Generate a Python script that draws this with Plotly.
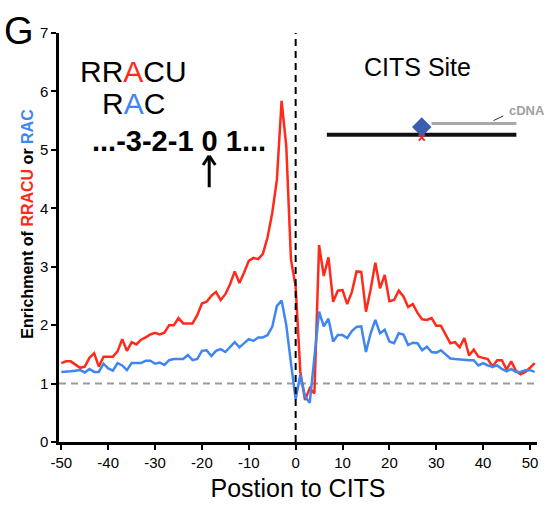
import plotly.graph_objects as go

positions = list(range(-50, 52))

rracu = [1.35, 1.38, 1.38, 1.33, 1.27, 1.29, 1.44, 1.52, 1.29, 1.46,
         1.46, 1.46, 1.55, 1.76, 1.56, 1.71, 1.67, 1.75, 1.79, 1.84,
         1.87, 1.84, 1.87, 2.00, 2.00, 2.12, 2.03, 2.03, 2.03, 2.17,
         2.37, 2.40, 2.50, 2.57, 2.43, 2.53, 2.70, 2.92, 2.72, 2.90,
         3.10, 3.15, 3.13, 3.22, 3.50, 3.92, 4.49, 5.84, 5.06, 3.12,
         2.66, 1.20, 0.72, 0.92, 0.83, 3.37, 2.84, 3.16, 2.40, 2.59,
         2.60, 2.36, 2.57, 2.92, 2.91, 2.23, 2.61, 3.07, 2.63, 2.86,
         2.41, 2.43, 2.59, 2.49, 2.31, 2.36, 2.21, 2.10, 2.09, 2.12,
         1.99, 1.99, 1.83, 1.69, 1.71, 1.62, 1.78, 1.48, 1.58, 1.46,
         1.44, 1.42, 1.29, 1.40, 1.40, 1.24, 1.38, 1.22, 1.16, 1.20,
         1.27, 1.35]

rac = [1.20, 1.20, 1.21, 1.22, 1.23, 1.19, 1.25, 1.20, 1.20, 1.34,
       1.26, 1.22, 1.35, 1.31, 1.23, 1.35, 1.35, 1.35, 1.39, 1.39,
       1.34, 1.36, 1.32, 1.40, 1.42, 1.42, 1.42, 1.49, 1.40, 1.42,
       1.56, 1.57, 1.47, 1.56, 1.59, 1.54, 1.62, 1.71, 1.62, 1.69,
       1.76, 1.73, 1.79, 1.79, 1.83, 1.97, 2.33, 2.42, 2.00, 1.35,
       0.73, 1.15, 0.78, 0.67, 1.40, 2.23, 1.98, 2.11, 1.72, 1.83,
       1.83, 1.78, 1.90, 1.97, 1.98, 1.54, 1.86, 2.09, 1.86, 1.92,
       1.72, 1.69, 1.86, 1.84, 1.66, 1.70, 1.69, 1.57, 1.63, 1.54,
       1.53, 1.57, 1.50, 1.43, 1.42, 1.41, 1.40, 1.40, 1.40, 1.31,
       1.35, 1.31, 1.29, 1.31, 1.25, 1.21, 1.25, 1.20, 1.20, 1.23,
       1.23, 1.20]

x_ticks = [-50, -40, -30, -20, -10, 0, 10, 20, 30, 40, 50]
y_ticks = [0, 1, 2, 3, 4, 5, 6, 7]

RED = "#FF2A1A"
BLUE = "#3F86F2"
FONT = "Arial, Liberation Sans, sans-serif"

fig = go.Figure()
fig.add_trace(go.Scatter(x=positions, y=rracu, mode="lines",
                         line=dict(color=RED, width=2.5), showlegend=False))
fig.add_trace(go.Scatter(x=positions, y=rac, mode="lines",
                         line=dict(color=BLUE, width=2.5), showlegend=False))

# CITS site schematic markers
fig.add_trace(go.Scatter(x=[26.9], y=[5.39], mode="markers",
                         marker=dict(symbol="diamond", size=15, color="#3A5DB0"),
                         showlegend=False))
fig.add_trace(go.Scatter(x=[26.9], y=[5.21], mode="markers",
                         marker=dict(symbol="x-thin", size=6, line=dict(color="#E0302A", width=2)),
                         showlegend=False))

AX, TIP, TAIL = -18.45, 4.90, 4.36
shapes = [
    dict(type="line", xref="x", yref="y", x0=0, x1=0, y0=0, y1=7,
         line=dict(color="black", width=2, dash="7px,5px"), layer="above"),
    dict(type="line", xref="x", yref="y", x0=-50.5, x1=51.5, y0=1, y1=1,
         line=dict(color="#9A9A9A", width=2, dash="7px,5px"), layer="below"),
    dict(type="line", xref="x", yref="y", x0=6.66, x1=47.1, y0=5.26, y1=5.26,
         line=dict(color="#111111", width=4), layer="below"),
    dict(type="line", xref="x", yref="y", x0=29.0, x1=47.1, y0=5.45, y1=5.45,
         line=dict(color="#A8A8A8", width=3), layer="below"),
    dict(type="line", xref="x", yref="y", x0=42.2, x1=44.3, y0=5.50, y1=5.58,
         line=dict(color="#333333", width=1)),
    # upward arrow under position 0
    dict(type="line", xref="x", yref="y", x0=AX, x1=AX, y0=TAIL, y1=TIP - 0.02,
         line=dict(color="black", width=3)),
    dict(type="line", xref="x", yref="y", x0=AX - 1.3, x1=AX, y0=TIP - 0.16, y1=TIP,
         line=dict(color="black", width=3)),
    dict(type="line", xref="x", yref="y", x0=AX + 1.3, x1=AX, y0=TIP - 0.16, y1=TIP,
         line=dict(color="black", width=3)),
]

annotations = [
    dict(text="G", xref="paper", yref="paper", x=-0.12, y=1.005, xanchor="left", yanchor="middle",
         showarrow=False, font=dict(family=FONT, size=38, color="black")),
    dict(text="RR<span style='color:%s'>A</span>CU" % RED, xref="x", yref="y", x=-34.6, y=6.34,
         showarrow=False, font=dict(family=FONT, size=30, color="black")),
    dict(text="R<span style='color:%s'>A</span>C" % BLUE, xref="x", yref="y", x=-34.6, y=5.80,
         showarrow=False, font=dict(family=FONT, size=30, color="black")),
    dict(text="<b>...-3-2-1 0 1...</b>", xref="x", yref="y", x=-24.9, y=5.15,
         showarrow=False, font=dict(family=FONT, size=29, color="black")),
    dict(text="CITS Site", xref="x", yref="y", x=26.0, y=6.41,
         showarrow=False, font=dict(family=FONT, size=25, color="black")),
    dict(text="<b>cDNA</b>", xref="x", yref="y", x=49.4, y=5.67,
         showarrow=False, font=dict(family=FONT, size=13, color="#A0A0A0")),
    dict(text="<b>Enrichment of <span style='color:%s'>RRACU</span> or <span style='color:%s'>RAC</span></b>" % (RED, BLUE),
         xref="paper", yref="paper", x=-0.066, y=0.535, textangle=-90,
         xanchor="center", yanchor="middle", showarrow=False,
         font=dict(family=FONT, size=16, color="black")),
]

fig.update_layout(
    width=548, height=506,
    margin=dict(l=58.5, r=11, t=33, b=64, autoexpand=False),
    plot_bgcolor="white", paper_bgcolor="white",
    shapes=shapes, annotations=annotations,
    font=dict(family=FONT, color="black"),
)
fig.update_xaxes(range=[-50.5, 51.5], tickvals=x_ticks, ticktext=[str(v) for v in x_ticks],
                 showgrid=False, zeroline=False, showline=True, linecolor="black", linewidth=2.5,
                 ticks="outside", ticklen=5, tickwidth=2, tickcolor="black", automargin=False,
                 tickfont=dict(family=FONT, size=15, color="black"),
                 title=dict(text="Postion to CITS", font=dict(family=FONT, size=25, color="black"), standoff=10))
fig.update_yaxes(range=[0, 7], tickvals=y_ticks, automargin=False,
                 showgrid=False, zeroline=False, showline=True, linecolor="black", linewidth=2.5,
                 ticks="outside", ticklen=5, tickwidth=2, tickcolor="black",
                 tickfont=dict(family=FONT, size=15, color="black"))

fig.write_html("out.html")
